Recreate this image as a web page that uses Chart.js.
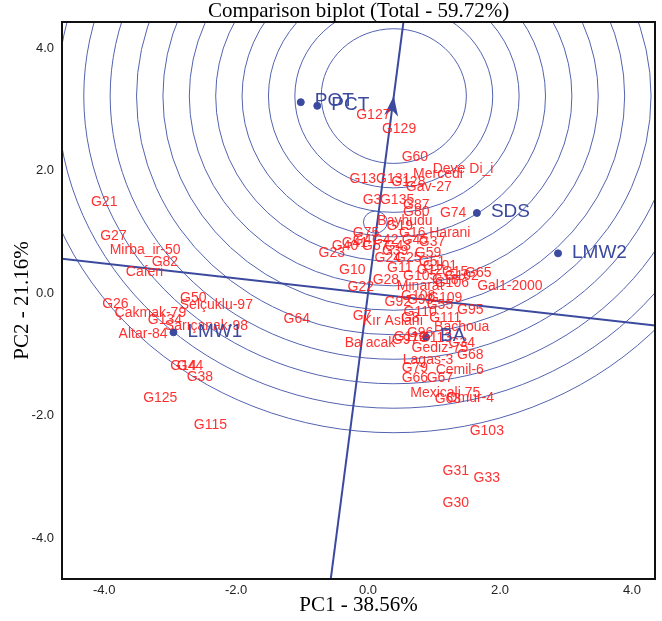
<!DOCTYPE html>
<html><head><meta charset="utf-8">
<script src="https://cdn.jsdelivr.net/npm/chart.js@4.4.1/dist/chart.umd.min.js"></script>
<style>html,body{margin:0;padding:0;background:#fff;}</style>
</head><body>
<canvas id="c" width="662" height="621" style="width:662px;height:621px;display:block"></canvas>
<script>
// ---- data (PC1, PC2 scores) ----
const genotypeNames = ["G127","G129","G60","Deve Di_i","Mercedi","G13","G131","G128","Gav-27","G3","G135","G87","G80","G74",
 "Bayhudu","G19","G75","G16","Harani","G4","G37","G40","G57","G23","G39","G59","G24","G25","G51","G10","G11","G12","G15","G65",
 "G28","G22","Minarat","G18","Gal1-2000","G92","G93","G55","G95","G7","Kır Aslanı","G8","Bachoua","G96","Ba acak","G97","G34",
 "Gediz-75","G68","Lagas-3","G79","Cemil-6","G66","G67","Mexicali 75","G63","Omur-4","G103","G31","G33","G30",
 "G21","G27","Mirba_ir-50","G82","Caferi","G26","Çakmak-79","G50","Selçuklu-97","G134","Sarıçanak-98","Altar-84","G64","G14","G44","G38","G125","G115",
 "G41","G42","G43","G45","G101","G102","G105","G106","G108","G109","G110","G111","G112","G113"];
const genotypePC1 = [0.08,0.47,0.71,1.44,1.06,-0.08,0.38,0.61,0.92,0.06,0.44,0.73,0.73,1.29,
 0.56,0.48,-0.03,0.67,1.24,-0.09,0.97,-0.35,0.11,-0.55,0.41,0.91,0.30,0.61,0.97,-0.24,0.48,0.94,1.32,1.67,
 0.27,-0.11,0.79,1.17,2.15,0.45,0.79,1.09,1.55,-0.09,0.38,0.64,1.42,0.79,0.03,0.56,1.42,
 1.09,1.55,0.91,0.71,1.39,0.71,1.09,1.17,1.21,1.55,1.80,1.33,1.80,1.33,
 -4.00,-3.86,-3.38,-3.08,-3.39,-3.83,-3.30,-2.65,-2.30,-3.08,-2.45,-3.41,-1.08,-2.80,-2.70,-2.55,-3.15,-2.39,
 -0.20,0.26,0.45,0.71,1.09,1.42,0.79,1.27,0.76,1.17,0.79,1.17,0.64,1.02];
const genotypePC2 = [2.91,2.68,2.22,2.03,1.94,1.86,1.86,1.81,1.73,1.52,1.52,1.44,1.32,1.31,
 1.18,1.09,0.98,0.98,0.98,0.87,0.83,0.77,0.77,0.65,0.69,0.65,0.57,0.57,0.51,0.38,0.41,0.38,0.34,0.33,
 0.21,0.10,0.11,0.21,0.11,-0.15,-0.11,-0.20,-0.28,-0.38,-0.46,-0.41,-0.56,-0.65,-0.82,-0.77,-0.82,
 -0.90,-1.01,-1.09,-1.23,-1.26,-1.39,-1.39,-1.63,-1.73,-1.72,-2.25,-2.91,-3.02,-3.43,
 1.49,0.93,0.70,0.51,0.34,-0.18,-0.33,-0.08,-0.20,-0.44,-0.54,-0.67,-0.42,-1.19,-1.19,-1.37,-1.72,-2.16,
 0.82,0.87,0.77,0.87,0.44,0.28,0.28,0.16,-0.05,-0.08,-0.31,-0.41,-0.72,-0.74];
const environmentNames = ["POT","PCT","SDS","LMW2","LMW1","BA"];
const environmentPC1 = [-1.02,-0.77,1.65,2.88,-2.95,0.88];
const environmentPC2 = [3.12,3.06,1.31,0.65,-0.64,-0.72];
const idealPoint = [0.39, 3.22];          // arrow tip / centre of the concentric circles
const averageEnvironment = [0.11, 1.16];  // small circle
const averageEnvRadius = 0.18;
const circleRadii = [1.1,1.5,1.9,2.3,2.7,3.1,3.5,3.9,4.3,4.7,5.1,5.5];
const axisTicks = [-4,-2,0,2,4];
const titleText = "Comparison biplot (Total - 59.72%)";
const xTitle = "PC1 - 38.56%";
const yTitle = "PC2 - 21.16%";

// ---- styles ----
const RED = "rgba(255,30,30,0.92)";
const BLUE = "#3b4a9e";
const CIRCLE = "#5363b0";
const SERIF = "'Liberation Serif','Times New Roman',serif";
const SANS = "'Liberation Sans',Arial,sans-serif";

const genoData = genotypeNames.map((n,i)=>({x:genotypePC1[i], y:genotypePC2[i]}));
const envData = environmentNames.map((n,i)=>({x:environmentPC1[i], y:environmentPC2[i]}));
const ext = 1.6;
const aeaLine = [{x:-idealPoint[0]*ext, y:-idealPoint[1]*ext},{x:idealPoint[0]*ext, y:idealPoint[1]*ext}];
const perpLine = [{x:-idealPoint[1]*ext, y:idealPoint[0]*ext},{x:idealPoint[1]*ext, y:-idealPoint[0]*ext}];

const biplotPlugin = {
  id:'biplot',
  beforeDatasetsDraw(chart){
    const {ctx, chartArea:a, scales:{x,y}} = chart;
    const ux = x.getPixelForValue(1)-x.getPixelForValue(0);
    const uy = y.getPixelForValue(0)-y.getPixelForValue(1);
    ctx.save();
    ctx.beginPath(); ctx.rect(a.left,a.top,a.right-a.left,a.bottom-a.top); ctx.clip();
    ctx.strokeStyle = CIRCLE; ctx.lineWidth = 1;
    const cx = x.getPixelForValue(idealPoint[0]), cy = y.getPixelForValue(idealPoint[1]);
    circleRadii.forEach(r=>{ ctx.beginPath(); ctx.ellipse(cx,cy,r*ux,r*uy,0,0,Math.PI*2); ctx.stroke(); });
    const ax = x.getPixelForValue(averageEnvironment[0]), ay = y.getPixelForValue(averageEnvironment[1]);
    ctx.beginPath(); ctx.ellipse(ax,ay,averageEnvRadius*ux,averageEnvRadius*uy,0,0,Math.PI*2); ctx.stroke();
    ctx.restore();
  },
  afterDatasetsDraw(chart){
    const {ctx, chartArea:a, scales:{x,y}} = chart;
    ctx.save();
    ctx.beginPath(); ctx.rect(a.left,a.top,a.right-a.left,a.bottom-a.top); ctx.clip();
    const tx = x.getPixelForValue(idealPoint[0]), ty = y.getPixelForValue(idealPoint[1]);
    const ox = x.getPixelForValue(0), oy = y.getPixelForValue(0);
    const ang = Math.atan2(ty-oy, tx-ox);
    ctx.save(); ctx.translate(tx,ty); ctx.rotate(ang);
    ctx.fillStyle = BLUE; ctx.beginPath();
    ctx.moveTo(0,0); ctx.lineTo(-20,-7); ctx.lineTo(-14,0); ctx.lineTo(-20,7); ctx.closePath(); ctx.fill();
    ctx.restore();
    ctx.font = "14px " + SANS;
    ctx.fillStyle = RED; ctx.textAlign = 'center'; ctx.textBaseline = 'middle';
    genoData.forEach((p,i)=>{ ctx.fillText(genotypeNames[i], x.getPixelForValue(p.x), y.getPixelForValue(p.y)); });
    ctx.font = "19px " + SANS;
    ctx.fillStyle = BLUE; ctx.textAlign = 'left';
    envData.forEach((p,i)=>{ ctx.fillText(environmentNames[i], x.getPixelForValue(p.x)+14, y.getPixelForValue(p.y)-1); });
    ctx.restore();
    ctx.save(); ctx.strokeStyle = '#111'; ctx.lineWidth = 2;
    ctx.strokeRect(a.left, a.top, a.right-a.left, a.bottom-a.top);
    // chart title, centred over the plot area
    ctx.fillStyle = '#000'; ctx.font = "21px " + SERIF; ctx.textAlign = 'center'; ctx.textBaseline = 'middle';
    ctx.fillText(titleText, (a.left+a.right)/2, 11.5);
    ctx.restore();
  }
};

new Chart(document.getElementById('c'), {
  type:'scatter',
  data:{ datasets:[
    {type:'line', data:aeaLine, borderColor:BLUE, borderWidth:2, pointRadius:0, fill:false},
    {type:'line', data:perpLine, borderColor:BLUE, borderWidth:2, pointRadius:0, fill:false},
    {label:'Genotypes', data:genoData, pointRadius:0},
    {label:'Environments', data:envData, pointRadius:3.5, pointBackgroundColor:BLUE, pointBorderColor:BLUE}
  ]},
  options:{
    responsive:false, animation:false, devicePixelRatio:1,
    layout:{padding:{left:0,right:7,top:22,bottom:0}},
    plugins:{ legend:{display:false}, tooltip:{enabled:false}, title:{display:false} },
    scales:{
      x:{type:'linear', min:-4.64, max:4.35,
        afterBuildTicks(s){ s.ticks = axisTicks.map(v=>({value:v})); },
        afterFit(s){ s.height = 42; },
        grid:{display:false, drawTicks:false}, border:{display:false},
        ticks:{padding:4, color:'#222', font:{family:SANS, size:13}, callback:v=>v.toFixed(1), maxRotation:0},
        title:{display:true, text:xTitle, color:'#000', padding:{top:0,bottom:5.5}, font:{family:SERIF, size:21, lineHeight:1}}
      },
      y:{type:'linear', min:-4.67, max:4.43,
        afterBuildTicks(s){ s.ticks = axisTicks.map(v=>({value:v})); },
        afterFit(s){ s.width = 62; },
        grid:{display:false, drawTicks:false}, border:{display:false},
        ticks:{padding:8, color:'#222', font:{family:SANS, size:13}, callback:v=>v.toFixed(1)},
        title:{display:true, text:yTitle, color:'#000', padding:{top:11.5,bottom:0}, font:{family:SERIF, size:21, lineHeight:1}}
      }
    }
  },
  plugins:[biplotPlugin]
});
</script>
</body></html>
